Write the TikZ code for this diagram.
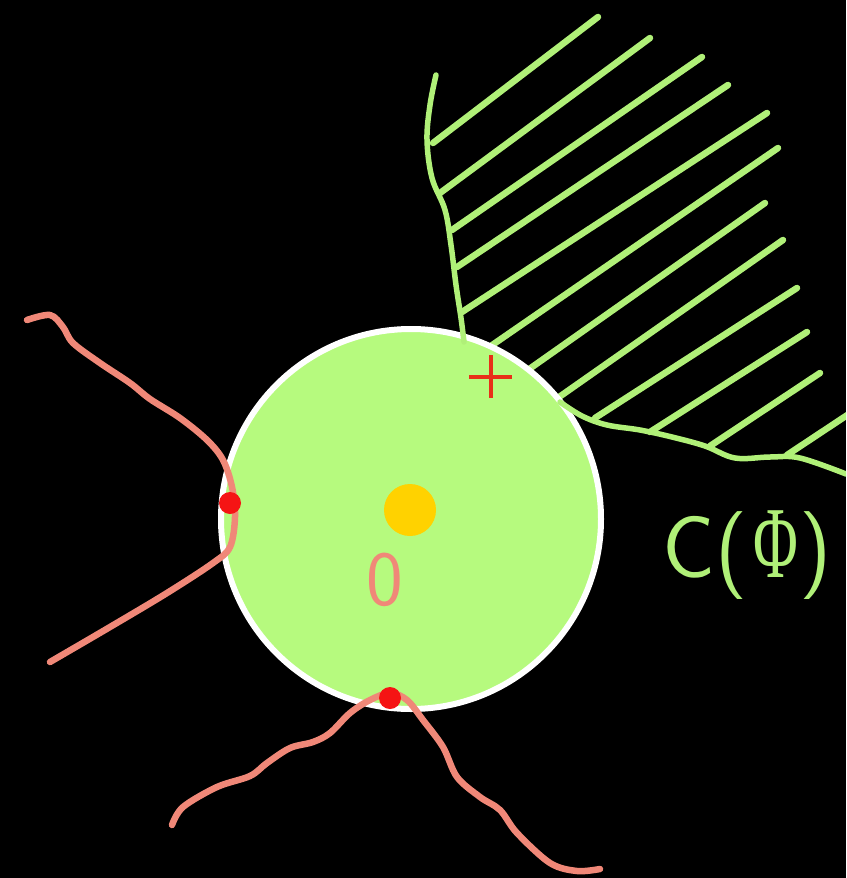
\documentclass[tikz,border=0pt]{standalone}
\usepackage{fontspec}
\newfontfamily\phifont{Liberation Serif}
\definecolor{hgreen}{RGB}{176,240,120}
\definecolor{cgreen}{RGB}{182,250,126}
\definecolor{salmon}{RGB}{240,136,120}
\definecolor{dotred}{RGB}{245,20,20}
\definecolor{plusred}{RGB}{232,48,24}
\definecolor{sun}{RGB}{255,210,0}
\tikzset{
  hatch/.style={hgreen, line width=6.5pt, line cap=round},
  bound/.style={hgreen, line width=5.5pt, line cap=round, line join=round},
  wave/.style={salmon, line width=6.5pt, line cap=round, line join=round},
  reddot/.style={fill=dotred, draw=none}
}
\begin{document}
\begin{tikzpicture}[x=1pt,y=-1pt]
\fill[black] (0,0) rectangle (846,878);
\useasboundingbox (0,0) rectangle (846,878);
\clip (0,0) rectangle (846,878);
% hatch lines
\draw[hatch] (433,143) -- (598,17);
\draw[hatch] (440,193) -- (650,38);
\draw[hatch] (452,230) -- (702,57);
\draw[hatch] (457,267) -- (728,85);
\draw[hatch] (462,312) -- (767,113);
\draw[hatch] (485,350) -- (778,148);
\draw[hatch] (525,372) -- (765,203);
\draw[hatch] (552,402) -- (783,240);
\draw[hatch] (595,418) -- (797,288);
\draw[hatch] (650,432) -- (807,332);
\draw[hatch] (710,446) -- (820,373);
\draw[hatch] (787,455) -- (870,400);
% disc
\draw[white, line width=6pt, fill=cgreen] (411,519) circle[radius=190];
% boundaries of hatched region
\draw[bound] plot[smooth, tension=0.6] coordinates {(436,75) (430,105) (427,140) (432,178) (445,210) (451,245) (456,285) (461,318) (464,342)};
\draw[bound] plot[smooth, tension=0.6] coordinates {(560,402) (582,416) (607,425) (640,430) (672,437) (705,446) (735,458) (770,457) (800,458) (846,474)};
% sun
\fill[sun] (410,510) circle[radius=26];
% plus
\draw[plusred, line width=3.5pt] (469,377) -- (512,377) (491,355) -- (491,398);
% zero
\node[text=salmon, font=\sffamily\fontsize{78}{78}\selectfont, inner sep=0pt] (zero) at (385,580) {0};
% left wave
\draw[wave] plot[smooth, tension=0.55] coordinates {(27,320) (50,315) (63,327) (73,343) (100,363) (130,383) (150,399) (180,418) (207,440) (223,460) (232,487) (235,517) (230,547) (213,563) (167,593) (110,627) (50,662)};
% bottom wave
\draw[wave] plot[smooth, tension=0.55] coordinates {(172,825) (183,807) (217,787) (250,776) (267,763) (290,748) (313,742) (330,733) (350,713) (370,700) (390,693) (407,700) (423,720) (443,747) (457,777) (480,797) (500,810) (517,833) (550,863) (577,871) (600,869)};
% red points
\fill[reddot] (230,503) circle[radius=11];
\fill[reddot] (390,698) circle[radius=11];
% label
\node[anchor=west, text=hgreen, inner sep=0pt, font=\sffamily\fontsize{88}{88}\selectfont] (lab) at (662,555) {C(\hspace{6pt}\scalebox{0.6}[1]{\phifont\fontsize{102}{102}\selectfont Φ}\hspace{1pt})};
\end{tikzpicture}
\end{document}
